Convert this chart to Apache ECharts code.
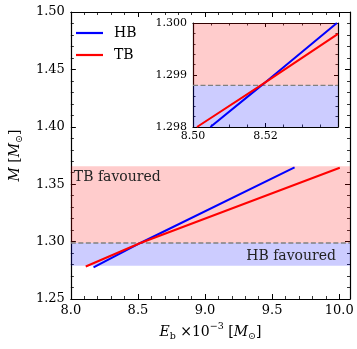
<!DOCTYPE html>
<html>
<head>
<meta charset="utf-8">
<script src="https://cdn.jsdelivr.net/npm/echarts@6/dist/echarts.min.js"></script>
<style>
html,body{margin:0;padding:0;background:#fff;}
#c{width:357px;height:349px;}
</style>
</head>
<body>
<div id="c"></div>
<script>
// ---- data ----
const seriesNames = ['HB', 'TB'];
const hbMain = [[8.169, 1.2776], [8.518, 1.2988], [9.667, 1.3646]];
const tbMain = [[8.111, 1.2783], [8.518, 1.2988], [10.004, 1.3643]];
const hbInset = [[8.5048, 1.2980], [8.5189, 1.2988], [8.5397, 1.3000]];
const tbInset = [[8.5011, 1.2980], [8.5187, 1.2988], [8.5400, 1.29979]];
const threshold = 1.2988;
const tbBand = [1.2988, 1.3657];
const hbBand = [1.2790, 1.2988];
const bandLabels = ['TB favoured', 'HB favoured'];
const mainX = {min: 8.0, max: 10.08, step: 0.5};
const mainY = {min: 1.25, max: 1.50, step: 0.05};
const insetX = {min: 8.50, max: 8.54, step: 0.02};
const insetY = {min: 1.298, max: 1.300, step: 0.001};

const FONT = 'DejaVu Serif';
const BLUE = '#0000ff', RED = '#ff0000';
const PINK = 'rgba(255,0,0,0.2)', LBLUE = 'rgba(0,0,255,0.2)';

function axisCommon(extra) {
  return Object.assign({
    type: 'value',
    axisLine: {show: true, onZero: false, lineStyle: {color: '#000', width: 1.2}},
    axisTick: {show: true, inside: true, length: 5, lineStyle: {color: '#000', width: 1}},
    minorTick: {show: true, length: 3, lineStyle: {color: '#000', width: 0.8}},
    splitLine: {show: false},
    minorSplitLine: {show: false},
    axisLabel: {show: false}
  }, extra);
}

const rich = {
  n: {fontFamily: FONT, fontSize: 14, color: '#000'},
  i: {fontFamily: FONT, fontSize: 14, fontStyle: 'italic', color: '#000'},
  sub: {fontFamily: FONT, fontSize: 9.5, color: '#000', verticalAlign: 'bottom', padding: [0, 0, -3, 0]},
  sup: {fontFamily: FONT, fontSize: 9.5, color: '#000', verticalAlign: 'top', padding: [-3, 0, 0, 0]}
};

const dashStyle = {color: '#808080', type: [5, 2.5], width: 1.3};

const chart = echarts.init(document.getElementById('c'), null, {renderer: 'canvas'});
chart.setOption({
  animation: false,
  backgroundColor: '#fff',
  grid: [
    {left: 63, top: 12, right: 7, bottom: 50},
    {left: 193, top: 23, width: 145, height: 104, show: true, backgroundColor: '#fff', borderWidth: 0}
  ],
  legend: {
    data: seriesNames,
    orient: 'vertical',
    left: 76, top: 26,
    itemWidth: 27, itemHeight: 2.2,
    itemGap: 8,
    icon: 'rect',
    padding: 0,
    textStyle: {fontFamily: FONT, fontSize: 14, color: '#000', padding: [0, 0, 0, 6]}
  },
  xAxis: [
    axisCommon({
      gridIndex: 0, position: 'bottom', min: mainX.min, max: mainX.max, interval: mainX.step,
      minorTick: {show: true, splitNumber: 5, length: 3, lineStyle: {color: '#000', width: 0.8}},
      axisLabel: {show: true, fontFamily: FONT, fontSize: 13, color: '#000', margin: 5, showMaxLabel: false,
        formatter: v => (Math.abs(v / mainX.step - Math.round(v / mainX.step)) < 1e-6 && v <= 10.0001) ? v.toFixed(1) : ''},
      name: '{i|E}{sub|b} {n|×10}{sup|−3} {n|[}{i|M}{sub|⊙}{n|]}',
      nameLocation: 'middle', nameGap: 22,
      nameTextStyle: {rich: rich, fontFamily: FONT, fontSize: 14, color: '#000'}
    }),
    axisCommon({
      gridIndex: 0, position: 'top', min: mainX.min, max: mainX.max, interval: mainX.step,
      minorTick: {show: true, splitNumber: 5, length: 3, lineStyle: {color: '#000', width: 0.8}}
    }),
    axisCommon({
      gridIndex: 1, position: 'bottom', min: insetX.min, max: insetX.max, interval: insetX.step,
      axisTick: {show: true, inside: true, length: 4, lineStyle: {color: '#000', width: 1}},
      minorTick: {show: true, splitNumber: 4, length: 2.5, lineStyle: {color: '#000', width: 0.8}},
      axisLabel: {show: true, fontFamily: FONT, fontSize: 11, color: '#000', margin: 4, showMaxLabel: false,
        formatter: v => v <= 8.5201 ? v.toFixed(2) : ''}
    }),
    axisCommon({
      gridIndex: 1, position: 'top', min: insetX.min, max: insetX.max, interval: insetX.step,
      axisTick: {show: true, inside: true, length: 4, lineStyle: {color: '#000', width: 1}},
      minorTick: {show: true, splitNumber: 4, length: 2.5, lineStyle: {color: '#000', width: 0.8}}
    })
  ],
  yAxis: [
    axisCommon({
      gridIndex: 0, position: 'left', min: mainY.min, max: mainY.max, interval: mainY.step,
      minorTick: {show: true, splitNumber: 5, length: 3, lineStyle: {color: '#000', width: 0.8}},
      axisLabel: {show: true, fontFamily: FONT, fontSize: 13, color: '#000', margin: 6,
        formatter: v => v.toFixed(2)},
      name: '{i|M} {n|[}{i|M}{sub|⊙}{n|]}',
      nameLocation: 'middle', nameGap: 41, nameRotate: 90,
      nameTextStyle: {rich: rich, fontFamily: FONT, fontSize: 14, color: '#000'}
    }),
    axisCommon({
      gridIndex: 0, position: 'right', min: mainY.min, max: mainY.max, interval: mainY.step,
      minorTick: {show: true, splitNumber: 5, length: 3, lineStyle: {color: '#000', width: 0.8}}
    }),
    axisCommon({
      gridIndex: 1, position: 'left', min: insetY.min, max: insetY.max, interval: insetY.step,
      axisTick: {show: true, inside: true, length: 4, lineStyle: {color: '#000', width: 1}},
      minorTick: {show: true, splitNumber: 5, length: 2.5, lineStyle: {color: '#000', width: 0.8}},
      axisLabel: {show: true, fontFamily: FONT, fontSize: 11, color: '#000', margin: 6,
        formatter: v => v.toFixed(3)}
    }),
    axisCommon({
      gridIndex: 1, position: 'right', min: insetY.min, max: insetY.max, interval: insetY.step,
      axisTick: {show: true, inside: true, length: 4, lineStyle: {color: '#000', width: 1}},
      minorTick: {show: true, splitNumber: 5, length: 2.5, lineStyle: {color: '#000', width: 0.8}}
    })
  ],
  series: [
    {
      name: 'bands', type: 'line', xAxisIndex: 0, yAxisIndex: 0, data: [], silent: true, z: 1,
      markArea: {
        silent: true, z: 1,
        data: [
          [{yAxis: tbBand[0], itemStyle: {color: PINK}}, {yAxis: tbBand[1]}],
          [{yAxis: hbBand[0], itemStyle: {color: LBLUE}}, {yAxis: hbBand[1]}]
        ],
        label: {show: false}
      }
    },
    {
      name: 'bandText', type: 'line', xAxisIndex: 0, yAxisIndex: 0, data: [], silent: true, z: 1,
      markArea: {
        silent: true, z: 2,
        itemStyle: {color: 'rgba(0,0,0,0)'},
        data: [
          [{yAxis: tbBand[0], name: bandLabels[0],
            label: {show: true, position: [3, 4], fontFamily: FONT, fontSize: 14, color: '#222'}},
           {yAxis: tbBand[1]}],
          [{yAxis: hbBand[0], name: bandLabels[1],
            label: {show: true, position: 'insideRight', distance: 14, fontFamily: FONT, fontSize: 14, color: '#222', offset: [0, 2]}},
           {yAxis: hbBand[1]}]
        ]
      }
    },
    {name: 'threshold', type: 'line', xAxisIndex: 0, yAxisIndex: 0, silent: true, z: 2,
      data: [[mainX.min, threshold], [mainX.max, threshold]], showSymbol: false, symbol: 'none',
      lineStyle: dashStyle, color: '#808080'},
    {name: 'HB', type: 'line', xAxisIndex: 0, yAxisIndex: 0, data: hbMain, showSymbol: false, symbol: 'none',
      color: BLUE, lineStyle: {color: BLUE, width: 2}, z: 3},
    {name: 'TB', type: 'line', xAxisIndex: 0, yAxisIndex: 0, data: tbMain, showSymbol: false, symbol: 'none',
      color: RED, lineStyle: {color: RED, width: 2}, z: 4},
    {
      name: 'insetBands', type: 'line', xAxisIndex: 2, yAxisIndex: 2, data: [], silent: true, z: 1,
      markArea: {
        silent: true, z: 1,
        data: [
          [{yAxis: threshold, itemStyle: {color: PINK}}, {yAxis: insetY.max}],
          [{yAxis: insetY.min, itemStyle: {color: LBLUE}}, {yAxis: threshold}]
        ],
        label: {show: false}
      }
    },
    {name: 'insetThreshold', type: 'line', xAxisIndex: 2, yAxisIndex: 2, silent: true, z: 2,
      data: [[insetX.min, threshold], [insetX.max, threshold]], showSymbol: false, symbol: 'none',
      lineStyle: dashStyle, color: '#808080'},
    {name: 'HB', type: 'line', xAxisIndex: 2, yAxisIndex: 2, data: hbInset, showSymbol: false, symbol: 'none',
      color: BLUE, lineStyle: {color: BLUE, width: 2}, z: 3, clip: true},
    {name: 'TB', type: 'line', xAxisIndex: 2, yAxisIndex: 2, data: tbInset, showSymbol: false, symbol: 'none',
      color: RED, lineStyle: {color: RED, width: 2}, z: 4, clip: true}
  ]
});
</script>
</body>
</html>
